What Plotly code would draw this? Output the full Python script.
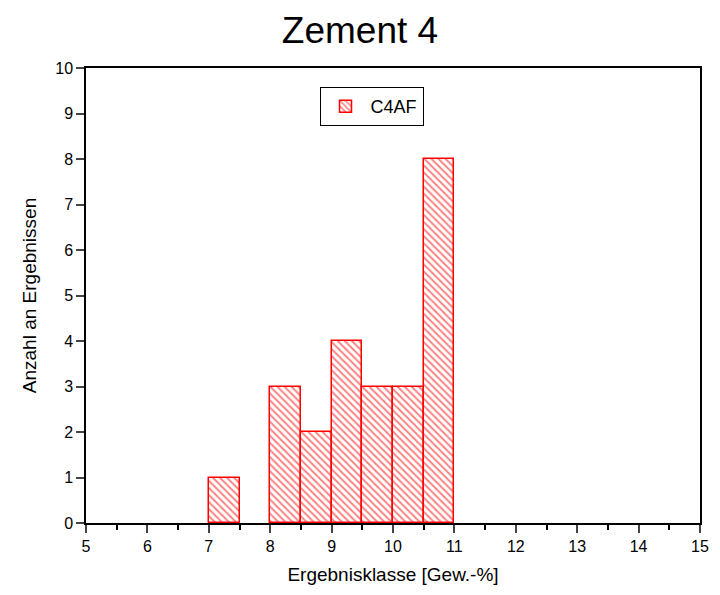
import plotly.graph_objects as go

bin_left = [7.0, 8.0, 8.5, 9.0, 9.5, 10.0, 10.5]
counts = [1, 3, 2, 4, 3, 3, 8]
bin_width = 0.5
series_name = "C4AF"
x_ticks = [5, 6, 7, 8, 9, 10, 11, 12, 13, 14, 15]
y_ticks = [0, 1, 2, 3, 4, 5, 6, 7, 8, 9, 10]

centers = [b + bin_width / 2 for b in bin_left]

fig = go.Figure()
fig.add_trace(go.Bar(
    x=centers, y=counts, width=bin_width, name=series_name,
    marker=dict(color="white", line=dict(color="red", width=1.5),
                pattern=dict(shape="\\", fgcolor="red", bgcolor="white", size=5, solidity=0.38)),
    showlegend=True,
))

fnt = "Liberation Sans, Arial, sans-serif"
fig.update_layout(
    width=720, height=595,
    margin=dict(l=86, r=20, t=68, b=72, autoexpand=False),
    paper_bgcolor="white", plot_bgcolor="white",
    font=dict(family=fnt, color="black", size=16),
    title=dict(text="Zement 4", x=0.5, xanchor="center", y=0.95, yanchor="middle",
               font=dict(size=37, family=fnt, color="black")),
    bargap=0,
    legend=dict(x=0.465, y=0.958, xanchor="center", yanchor="top",
                bordercolor="black", borderwidth=1, bgcolor="white",
                font=dict(size=18, family=fnt), itemwidth=40),
    xaxis=dict(range=[5, 15], tickvals=x_ticks, ticks="outside", ticklen=8, tickwidth=1.5,
               showline=True, linecolor="black", linewidth=1.5, mirror=True, showgrid=False,
               zeroline=False, tickfont=dict(size=16), automargin=False,
               minor=dict(dtick=0.5, ticks="outside", ticklen=5, tickwidth=1.5, tickcolor="black"),
               title=dict(text="Ergebnisklasse [Gew.-%]", font=dict(size=19), standoff=14)),
    yaxis=dict(range=[0, 10], tickvals=y_ticks, ticks="outside", ticklen=8, tickwidth=1.5,
               showline=True, linecolor="black", linewidth=1.5, mirror=True, showgrid=False,
               zeroline=False, tickfont=dict(size=16), automargin=False,
               title=dict(text="Anzahl an Ergebnissen", font=dict(size=19), standoff=14)),
)
fig.write_html("out.html", config={"displayModeBar": False},
               post_script="document.body.style.margin='0';")
